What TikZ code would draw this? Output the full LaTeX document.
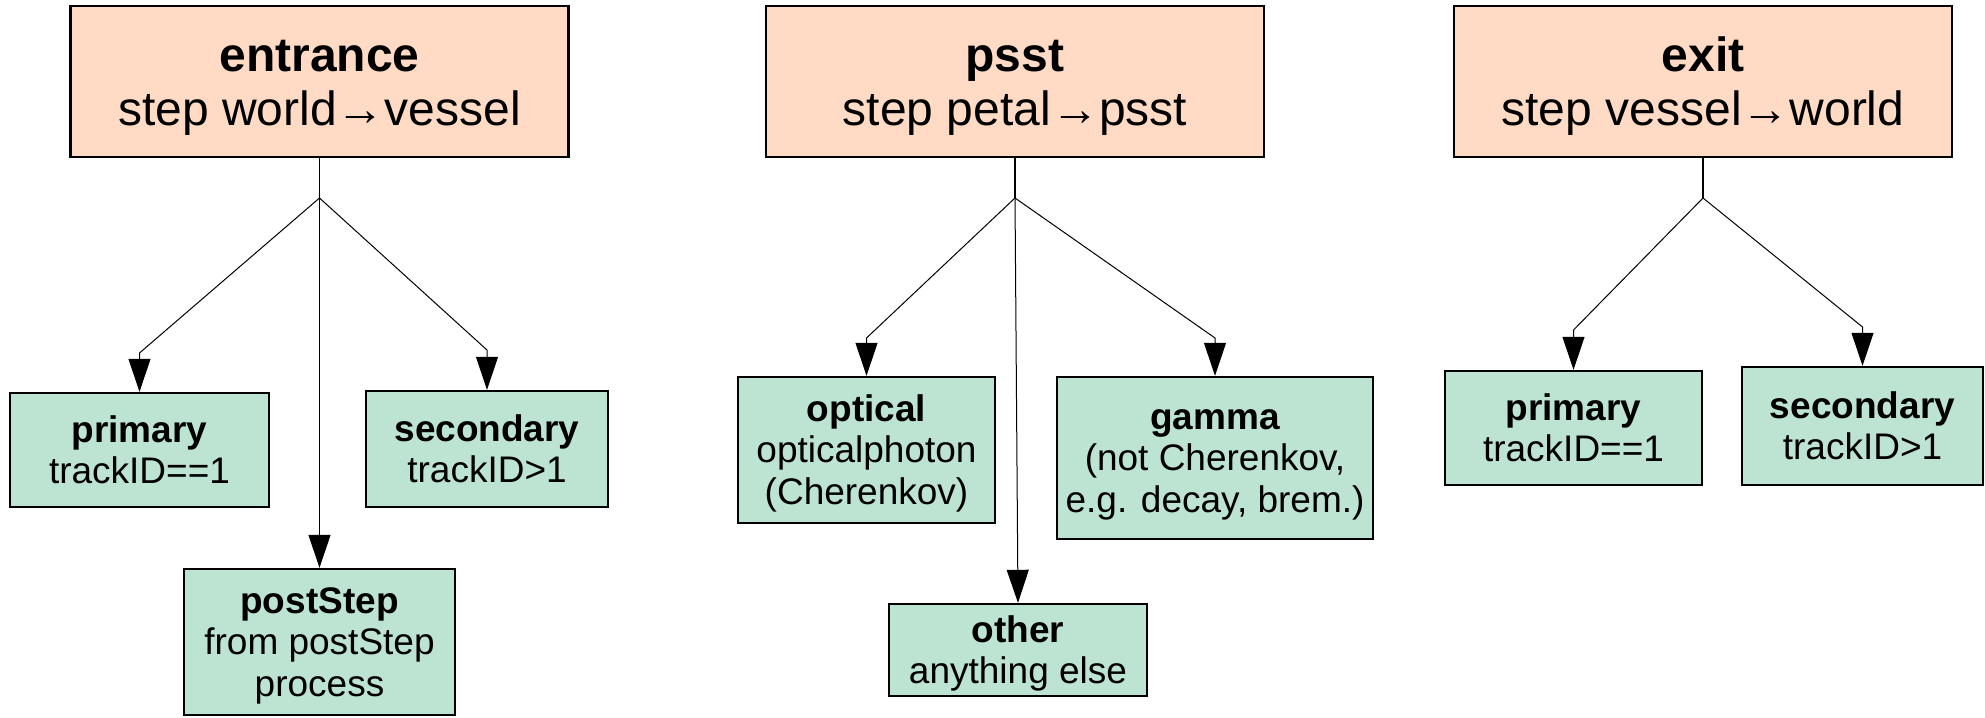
\documentclass[tikz,border=0pt]{standalone}
\usepackage{fontspec}
\setmainfont{Liberation Sans}
\usetikzlibrary{arrows.meta}
\definecolor{headfill}{RGB}{255,219,197}
\definecolor{leaffill}{RGB}{189,227,211}
% uniform line box: ascent and descent of the font
\newcommand\ls{\rule[-0.212em]{0pt}{1.117em}}
\begin{document}
\begin{tikzpicture}[x=0.5pt,y=-0.5pt,
  head/.style={draw, line width=1.2pt, fill=headfill, align=center, inner sep=2pt,
    font=\fontsize{24}{27}\selectfont, minimum width=249pt, minimum height=75.5pt},
  leaf/.style={draw, line width=1.2pt, fill=leaffill, align=center, inner sep=2pt,
    font=\fontsize{18.5}{20.8}\selectfont},
  trunk/.style={line width=0.6pt},
  branch/.style={line width=0.5pt, -{Triangle[length=16.5pt,width=11pt]}},
]
\useasboundingbox (0,0) rectangle (1985,717);

% ---- entrance ----
\node[head] (ent) at (319.5,81.5) {\ls\textbf{entrance}\\\ls step world→vessel};
\node[leaf, minimum width=129.5pt, minimum height=57pt] (p1) at (139.5,450)
  {\ls\textbf{primary}\\\ls trackID==1};
\node[leaf, minimum width=121pt, minimum height=58pt] (s1) at (487,449)
  {\ls\textbf{secondary}\\\ls trackID>1};
\node[leaf, minimum width=135.5pt, minimum height=73pt] (ps) at (319.5,642)
  {\ls\textbf{postStep}\\\ls from postStep\\\ls process};
\coordinate (j1) at (319.5,198);
\coordinate (b1p) at (139.5,353);
\coordinate (b1s) at (487,350);
\draw[trunk] (ent.south) -- (j1);
\draw[branch] (j1) -- (b1p) -- (p1.north);
\draw[branch] (j1) -- (b1s) -- (s1.north);
\draw[branch] (j1) -- (ps.north);

% ---- psst ----
\node[head] (psst) at (1015,81.5) {\ls\textbf{psst}\\\ls step petal→psst};
\node[leaf, minimum width=128.5pt, minimum height=73pt] (opt) at (866.5,450)
  {\ls\textbf{optical}\\\ls opticalphoton\\\ls (Cherenkov)};
\node[leaf, minimum width=158pt, minimum height=81pt] (gam) at (1215,458)
  {\ls\textbf{gamma}\\\ls (not Cherenkov,\\\ls e.g. decay, brem.)};
\node[leaf, minimum width=129pt, minimum height=46pt] (oth) at (1018,650)
  {\ls\textbf{other}\\\ls anything else};
\coordinate (j2) at (1015,198);
\coordinate (b2o) at (866.5,338);
\coordinate (b2g) at (1215,338);
\draw[trunk] (psst.south) -- (j2);
\draw[branch] (j2) -- (b2o) -- (opt.north);
\draw[branch] (j2) -- (b2g) -- (gam.north);
\draw[branch] (j2) -- (oth.north);

% ---- exit ----
\node[head] (ext) at (1703,81.5) {\ls\textbf{exit}\\\ls step vessel→world};
\node[leaf, minimum width=128.5pt, minimum height=57pt] (p3) at (1573.5,428)
  {\ls\textbf{primary}\\\ls trackID==1};
\node[leaf, minimum width=120.5pt, minimum height=59pt] (s3) at (1862.5,426)
  {\ls\textbf{secondary}\\\ls trackID>1};
\coordinate (j3) at (1703,198);
\coordinate (b3p) at (1573.5,330);
\coordinate (b3s) at (1862.5,327);
\draw[trunk] (ext.south) -- (j3);
\draw[branch] (j3) -- (b3p) -- (p3.north);
\draw[branch] (j3) -- (b3s) -- (s3.north);
\end{tikzpicture}
\end{document}
